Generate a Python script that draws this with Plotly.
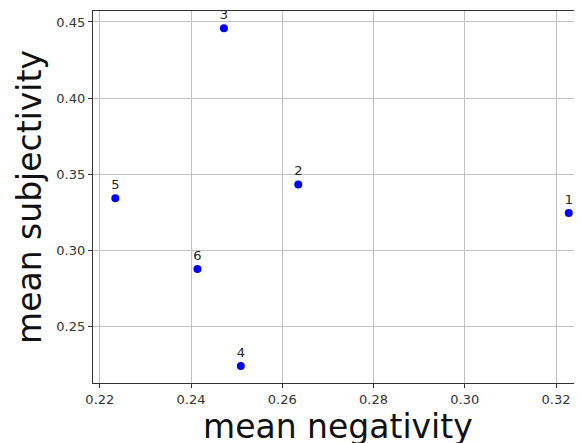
import plotly.graph_objects as go

labels = ["1", "2", "3", "4", "5", "6"]
mean_negativity = [0.3228, 0.2635, 0.2472, 0.2509, 0.2234, 0.2414]
mean_subjectivity = [0.3246, 0.3434, 0.4459, 0.2242, 0.3343, 0.2879]

x_ticks = [0.22, 0.24, 0.26, 0.28, 0.30, 0.32]
x_ticktext = ["0.22", "0.24", "0.26", "0.28", "0.30", "0.32"]
y_ticks = [0.25, 0.30, 0.35, 0.40, 0.45]
y_ticktext = ["0.25", "0.30", "0.35", "0.40", "0.45"]
x_title = "mean negativity"
y_title = "mean subjectivity"

fig = go.Figure()
fig.add_trace(go.Scatter(
    x=mean_negativity, y=mean_subjectivity, mode="markers+text",
    text=labels, textposition="top center",
    textfont=dict(family="DejaVu Sans", size=13, color="#222"),
    marker=dict(color="#0000ff", size=8),
    cliponaxis=False, showlegend=False,
))

axis_common = dict(
    showgrid=True, gridcolor="#c0c0c0", gridwidth=1,
    showline=True, linecolor="#333", linewidth=1.2,
    ticks="outside", ticklen=4, tickcolor="#333",
    tickfont=dict(family="DejaVu Sans", size=13, color="#333"),
    zeroline=False,
)

fig.update_layout(
    width=574, height=435,
    margin=dict(l=85, r=0, t=3, b=60),
    paper_bgcolor="white", plot_bgcolor="white",
    font=dict(family="DejaVu Sans"),
    xaxis=dict(range=[0.2185, 0.3257], tickvals=x_ticks, ticktext=x_ticktext,
               mirror=True, automargin=False,
               **axis_common),
    yaxis=dict(range=[0.2131, 0.4572], tickvals=y_ticks, ticktext=y_ticktext,
               automargin=False,
               title=dict(text=y_title,
                          font=dict(family="DejaVu Sans", size=33, color="#111"),
                          standoff=4),
               **axis_common),
    annotations=[dict(
        text=x_title, xref="paper", yref="paper", x=0.5, y=0,
        xanchor="center", yanchor="top", yshift=-22, showarrow=False,
        font=dict(family="DejaVu Sans", size=33, color="#111"),
    )],
)

fig.write_html("out.html")
